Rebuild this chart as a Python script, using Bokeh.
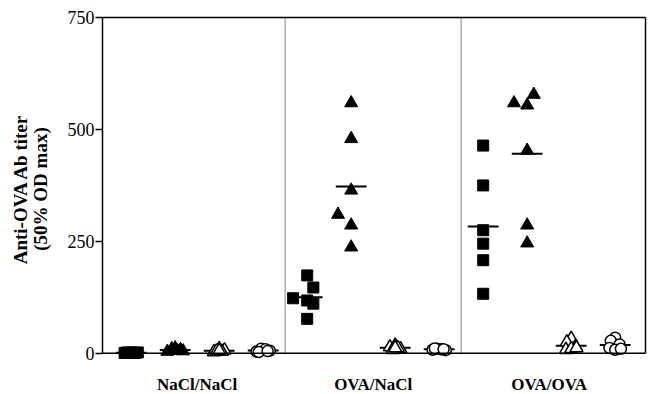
import numpy as np
from bokeh.plotting import figure
from bokeh.models import (Range1d, FixedTicker, LinearAxis, Span, ColumnDataSource)
from bokeh.embed import file_html
from bokeh.resources import INLINE

# ---------------- data ----------------
groups = ["NaCl/NaCl", "OVA/NaCl", "OVA/OVA"]
series_kinds = ["filled_square", "filled_triangle", "open_triangle", "open_circle"]

nacl_nacl_sq = [1, 2, 1, 2, 1, 2]
nacl_nacl_tri = [4, 10, 12, 6, 8, 5]
nacl_nacl_otri = [3, 10, 7, 5, 4, 6]
nacl_nacl_ocirc = [4, 10, 9, 6, 3, 5]

ova_nacl_sq = [123, 174, 147, 118, 111, 77]
ova_nacl_tri = [559, 479, 364, 310, 286, 237]
ova_nacl_otri = [18, 14, 10, 8, 12, 12]
ova_nacl_ocirc = [8, 10, 9, 7, 11, 9]

ova_ova_sq = [464, 375, 275, 245, 208, 133]
ova_ova_tri = [559, 578, 554, 453, 286, 246]
ova_ova_otri = [33, 25, 15, 8, 10, 12]
ova_ova_ocirc = [35, 28, 20, 12, 8, 10]

y_ticks = [0, 250, 500, 750]

# horizontal scatter (jitter) offsets within a slot
jit_nn_sq = [-0.15, -0.09, -0.03, 0.03, 0.09, 0.15]
jit_nn_tri = [-0.18, -0.08, 0.0, 0.05, 0.12, 0.18]
jit_nn_otri = [-0.12, 0.0, 0.12, -0.06, 0.06, 0.0]
jit_nn_ocirc = [-0.15, -0.05, 0.05, 0.15, -0.1, 0.1]
jit_on_sq = [-0.32, 0.0, 0.14, 0.0, 0.14, 0.0]
jit_on_tri = [0.0, 0.0, 0.0, -0.3, 0.0, 0.0]
jit_on_otri = [0.0, -0.12, 0.12, -0.06, 0.06, 0.0]
jit_on_ocirc = [-0.15, -0.05, 0.05, 0.15, -0.1, 0.1]
jit_oo_sq = [0, 0, 0, 0, 0, 0]
jit_oo_tri = [-0.3, 0.15, 0.0, 0.0, 0.0, 0.0]
jit_oo_otri = [0.0, -0.1, 0.1, -0.12, 0.0, 0.12]
jit_oo_ocirc = [0.0, -0.1, 0.1, -0.13, 0.0, 0.13]

all_series = [
    (nacl_nacl_sq, jit_nn_sq), (nacl_nacl_tri, jit_nn_tri),
    (nacl_nacl_otri, jit_nn_otri), (nacl_nacl_ocirc, jit_nn_ocirc),
    (ova_nacl_sq, jit_on_sq), (ova_nacl_tri, jit_on_tri),
    (ova_nacl_otri, jit_on_otri), (ova_nacl_ocirc, jit_on_ocirc),
    (ova_ova_sq, jit_oo_sq), (ova_ova_tri, jit_oo_tri),
    (ova_ova_otri, jit_oo_otri), (ova_ova_ocirc, jit_oo_ocirc),
]

# ---------------- figure ----------------
SERIF = "Liberation Serif"
X0, X1 = -0.652, 11.689
p = figure(output_backend="svg", toolbar_location=None,
           frame_width=543, frame_height=343,
           min_border_left=102, min_border_right=3,
           min_border_top=17, min_border_bottom=34,
           x_range=Range1d(X0, X1), y_range=Range1d(-16, 750),
           x_axis_type=None, y_axis_type=None)
p.outline_line_color = None
p.xgrid.visible = False
p.ygrid.visible = False
p.background_fill_color = "white"
p.border_fill_color = "white"

# y axis
ya = LinearAxis(ticker=FixedTicker(ticks=y_ticks, minor_ticks=[]), bounds=(0, 750))
ya.axis_label = "Anti-OVA Ab titer\n(50% OD max)"
ya.axis_label_text_font = SERIF
ya.axis_label_text_font_style = "bold"
ya.axis_label_text_font_size = "19px"
ya.axis_label_text_color = "black"
ya.axis_label_text_line_height = 0.95
ya.axis_label_standoff = 14
ya.major_label_text_font = SERIF
ya.major_label_text_font_size = "18px"
ya.major_label_text_color = "black"
ya.major_label_standoff = 1
ya.major_tick_out = 7
ya.major_tick_in = 0
ya.major_tick_line_width = 1.5
ya.major_tick_line_color = "black"
ya.axis_line_width = 1.5
ya.axis_line_color = "black"
p.add_layout(ya, "left")

# x axis with group labels
group_centers = [1.5, 5.5, 9.5]
xa = LinearAxis(ticker=FixedTicker(ticks=group_centers, minor_ticks=[]))
xa.major_label_overrides = {c: g for c, g in zip(group_centers, groups)}
xa.major_label_text_font = SERIF
xa.major_label_text_font_style = "bold"
xa.major_label_text_font_size = "17px"
xa.major_label_text_color = "black"
xa.major_label_standoff = 8
xa.major_tick_line_color = None
xa.axis_line_color = None
p.add_layout(xa, "below")

# frame: top & right borders
ta = LinearAxis(ticker=FixedTicker(ticks=[], minor_ticks=[]))
ta.major_label_text_font_size = "0px"
ta.major_tick_line_color = None
ta.axis_line_width = 1.5
p.add_layout(ta, "above")
ra = LinearAxis(ticker=FixedTicker(ticks=[], minor_ticks=[]), bounds=(0, 750))
ra.major_label_text_font_size = "0px"
ra.major_tick_line_color = None
ra.axis_line_width = 1.5
p.add_layout(ra, "right")

p.add_layout(Span(location=0, dimension="width", line_color="black", line_width=1.5))

# group dividers
dividers = [3.5, 7.5]
p.segment(x0=dividers, y0=[0, 0], x1=dividers, y1=[750, 750],
          line_color="#9a9a9a", line_width=1.2)

# mean lines
slots = np.arange(len(all_series))
means = [float(np.mean(v)) for v, _ in all_series]
p.segment(x0=slots - 0.35, y0=means, x1=slots + 0.35, y1=means,
          line_color="black", line_width=2)

# points
for i, (vals, jit) in enumerate(all_series):
    kind = series_kinds[i % 4]
    src = ColumnDataSource(dict(x=[i + j for j in jit], y=vals))
    if kind == "filled_square":
        p.scatter("x", "y", source=src, marker="square", size=11,
                  fill_color="black", line_color="black")
    elif kind == "filled_triangle":
        p.scatter("x", "y", source=src, marker="triangle", size=13,
                  fill_color="black", line_color="black")
    elif kind == "open_triangle":
        p.scatter("x", "y", source=src, marker="triangle", size=13,
                  fill_color="white", line_color="black", line_width=1.5)
    else:
        p.scatter("x", "y", source=src, marker="circle", size=11,
                  fill_color="white", line_color="black", line_width=1.5)

open("out.html", "w").write(file_html(p, INLINE))
